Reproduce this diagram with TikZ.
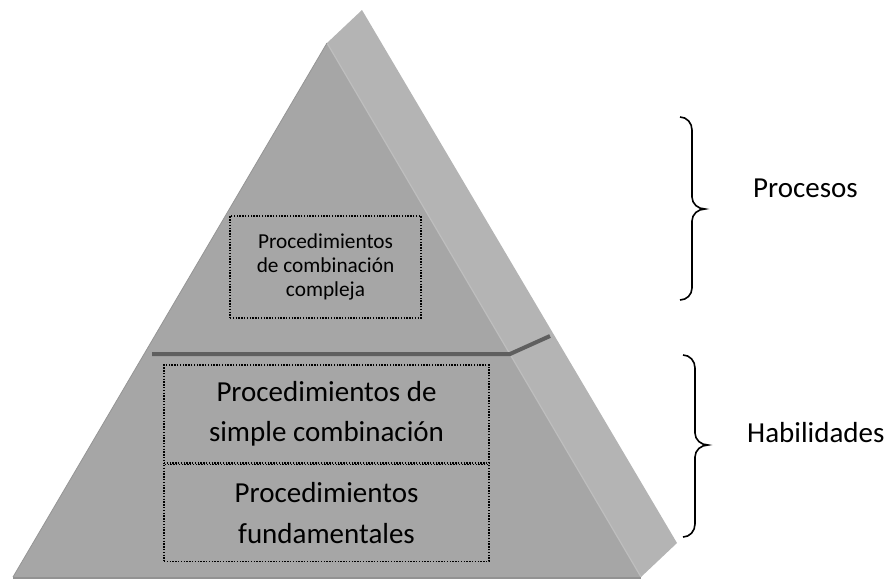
\documentclass[tikz,border=0pt]{standalone}
\usepackage{fontspec}
\setmainfont{Carlito}
\usetikzlibrary{positioning}

\definecolor{frontgray}{HTML}{A6A6A6}
\definecolor{sidegray}{HTML}{B4B4B4}
\definecolor{edgegray}{HTML}{BEBEBE}
\definecolor{linegray}{HTML}{5F5F5F}

\tikzset{
  dotbox/.style={draw=black, line width=1.4pt, dash pattern=on 1.4pt off 1.4pt,
    align=center, inner sep=0pt},
  brace/.style={draw=black, line width=1.6pt},
}

\begin{document}
\begin{tikzpicture}[x=1pt, y=-1pt]
\useasboundingbox (0,0) rectangle (891,579);

% side face, front face
\fill[sidegray] (327,43) -- (362,10) -- (677,543) -- (641,577) -- cycle;
\fill[frontgray] (327,43) -- (13,577) -- (641,577) -- cycle;
\draw[edgegray, line width=1.2pt] (327,43) -- (641,577);
\draw[frontgray!90!black, line width=0.8pt] (327,43) -- (13,577);
\draw[frontgray!88!black, line width=2pt] (13,578) -- (641,578);

% level divider
\draw[linegray, line width=4pt] 
(152,354) -- (510,354) -- (550,336)
;

\begin{scope}[every node/.style={dotbox}]
\node[minimum width=191pt, minimum height=102pt,
  font=\fontsize{21.3}{23.6}\selectfont] (compleja) at (325.5,267)
  {Procedimientos\\de combinación\\compleja};
\node[minimum width=325pt, minimum height=98pt,
  font=\fontsize{29}{40.5}\selectfont] (simple) at (326.5,414)
  {Procedimientos de\\simple combinación};
\node[minimum width=325pt, minimum height=97pt,
  font=\fontsize{29}{40.5}\selectfont, below=0pt of simple] (fund)
  {Procedimientos\\fundamentales};
\end{scope}

\draw[brace] 
(680,117) to[out=0, in=90] 
(692,130) -- (692,197) to[out=270, in=180] 
(705,209) to[out=180, in=90] 
(692,221) -- (692,288) to[out=270, in=0] 
(680,300)
;
\draw[brace] 
(683,355) to[out=0, in=90] 
(695,368) -- (695,433) to[out=270, in=180] 
(708,445) to[out=180, in=90] 
(695,457) -- (695,524) to[out=270, in=0] 
(683,537)
;

\begin{scope}[every node/.style={font=\fontsize{29}{33}\selectfont, inner sep=0pt}]
\node[anchor=base west] (procesos) at (753,197) {Procesos};
\node[anchor=base west] (habilidades) at (747,442) {Habilidades};
\end{scope}

\end{tikzpicture}
\end{document}
